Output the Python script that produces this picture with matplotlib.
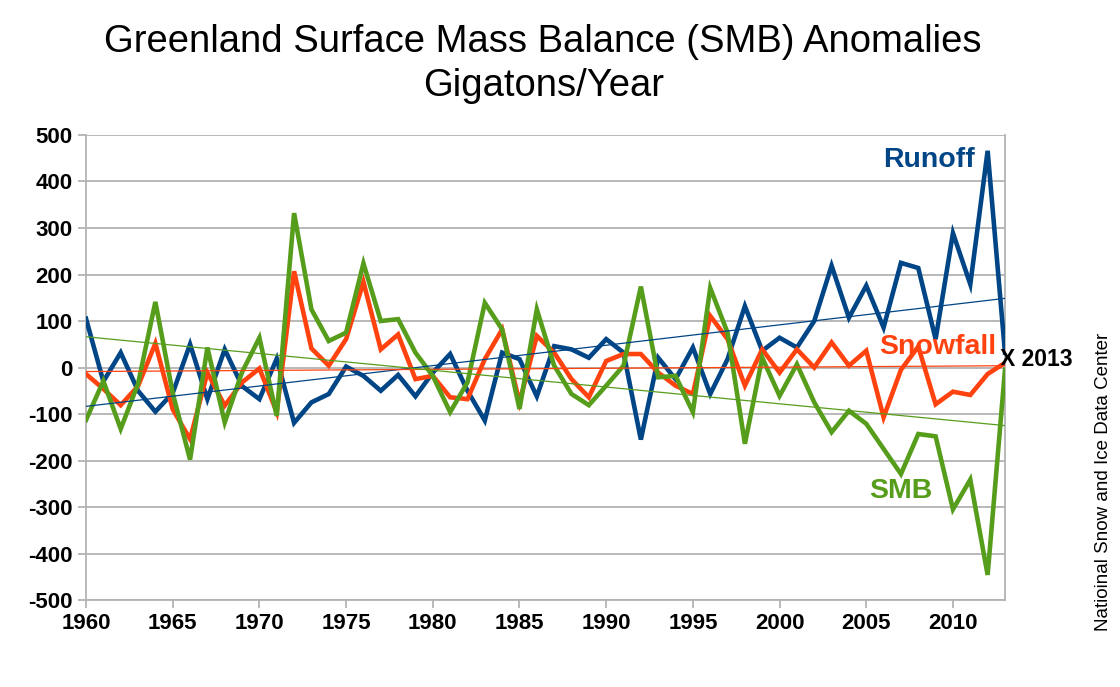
import numpy as np
import matplotlib
matplotlib.use("Agg")
import matplotlib.pyplot as plt

plt.rcParams['font.family'] = ['Liberation Sans', 'DejaVu Sans']
plt.rcParams['axes.unicode_minus'] = False

years = list(range(1960, 2014))

runoff = [105, -30, 32, -50, -95, -55, 50, -68, 39, -40,
          -68, 19, -119, -75, -57, 2, -18, -50, -16, -62,
          -11, 29, -50, -114, 32, 18, -62, 46, 39, 21,
          61, 32, -155, 21, -25, 43, -57, 18, 132, 36,
          64, 43, 100, 219, 107, 176, 86, 225, 214, 61,
          289, 179, 466, 32]

snowfall = [-14, -46, -81, -40, 52, -90, -154, -11, -82, -32,
            -2, -96, 207, 41, 4, 61, 184, 39, 71, -25,
            -18, -64, -68, 18, 82, -75, 68, 32, -25, -64,
            14, 29, 29, -11, -39, -57, 111, 61, -39, 39,
            -11, 39, 0, 54, 4, 36, -107, -5, 45, -79,
            -52, -59, -14, 10]

smb = [-113, -29, -132, -35, 141, -55, -198, 43, -118, -10,
       64, -104, 332, 125, 57, 75, 224, 100, 104, 32,
       -18, -96, -32, 139, 82, -89, 125, 4, -57, -81,
       -39, 4, 174, -21, -18, -96, 171, 75, -164, 21,
       -61, 7, -75, -139, -93, -121, -175, -229, -143, -148,
       -305, -241, -446, -5]

blue = '#004586'
red = '#ff420e'
green = '#579d1c'
grid = '#b3b3b3'

fig = plt.figure(figsize=(11.2, 6.87), dpi=100)
ax = fig.add_axes([0.0768, 0.1266, 0.8205, 0.6769])

x = np.array(years)
for vals, col in [(runoff, blue), (snowfall, red), (smb, green)]:
    ax.plot(x, vals, color=col, lw=3.3, solid_joinstyle='miter', zorder=3)
# linear trend lines
for vals, col in [(runoff, blue), (snowfall, red), (smb, green)]:
    k, b = np.polyfit(x, vals, 1)
    ax.plot(x, k * x + b, color=col, lw=0.9, zorder=4)

ax.set_xlim(1960, 2013)
ax.set_ylim(-500, 500)
ax.set_xticks(range(1960, 2011, 5))
ax.set_yticks(range(-500, 501, 100))
ax.yaxis.grid(True, color=grid, lw=1.3)
ax.set_axisbelow(True)
for s in ['left', 'bottom', 'right']:
    ax.spines[s].set_color(grid)
    ax.spines[s].set_linewidth(1.3)
ax.spines['top'].set_visible(False)
ax.tick_params(colors=grid, length=6, width=1.3, labelcolor='black',
               labelsize=16)
for lab in ax.get_xticklabels() + ax.get_yticklabels():
    lab.set_fontweight('bold')

ax.text(2008.6, 447, 'Runoff', color=blue, fontsize=20.5, fontweight='bold',
        ha='center', va='center')
ax.text(2009.1, 45, 'Snowfall', color=red, fontsize=20.5, fontweight='bold',
        ha='center', va='center')
ax.text(2007.0, -265, 'SMB', color=green, fontsize=20.5, fontweight='bold',
        ha='center', va='center')
ax.text(2012.7, 17, 'X 2013', color='black', fontsize=16.5, fontweight='bold',
        ha='left', va='center', clip_on=False)

fig.text(0.485, 0.907, 'Greenland Surface Mass Balance (SMB) Anomalies\nGigatons/Year',
         ha='center', va='center', fontsize=27.5, linespacing=1.3)
fig.text(0.985, 0.298, 'Natioinal Snow and Ice Data Center', rotation=90,
         ha='center', va='center', fontsize=13.5)

fig.savefig('out.png', dpi=100)
